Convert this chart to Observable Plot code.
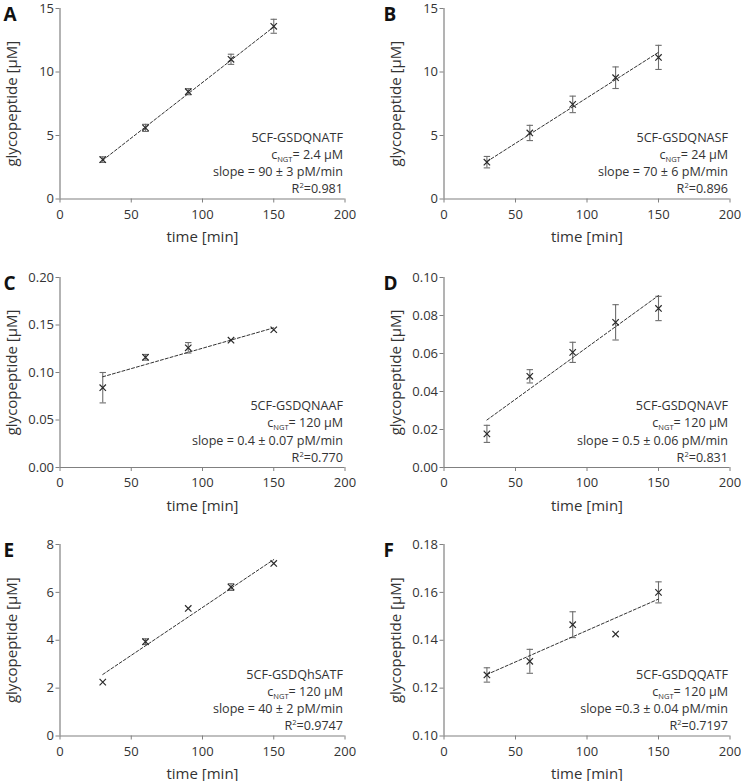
<!DOCTYPE html>
<html><head><meta charset="utf-8">
<script src="https://cdn.jsdelivr.net/npm/d3@7"></script>
<script src="https://cdn.jsdelivr.net/npm/@observablehq/plot@0.6"></script>
<style>
body{margin:0;background:#fff;}
#wrap{position:relative;width:741px;height:781px;overflow:hidden;background:#fff;}
#wrap svg{position:absolute;overflow:visible;}
</style></head><body><div id="wrap"></div>
<script>
// ---------- data ----------
const times = [30, 60, 90, 120, 150];
const xTicks = [0, 50, 100, 150, 200];
const panelLetters = ["A", "B", "C", "D", "E", "F"];
const peptides = ["5CF-GSDQNATF", "5CF-GSDQNASF", "5CF-GSDQNAAF", "5CF-GSDQNAVF", "5CF-GSDQhSATF", "5CF-GSDQQATF"];
const cNGT = ["= 2.4 µM", "= 24 µM", "= 120 µM", "= 120 µM", "= 120 µM", "= 120 µM"];
const slopes = ["slope = 90 ± 3 pM/min", "slope = 70 ± 6 pM/min", "slope = 0.4 ± 0.07 pM/min", "slope = 0.5 ± 0.06 pM/min", "slope = 40 ± 2 pM/min", "slope =0.3 ± 0.04 pM/min"];
const r2 = ["=0.981", "=0.896", "=0.770", "=0.831", "=0.9747", "=0.7197"];

const valuesA = [3.1, 5.6, 8.45, 11.0, 13.6];
const errorsA = [0.22, 0.28, 0.24, 0.4, 0.55];
const fitA = [3.05, 13.55];
const valuesB = [2.9, 5.2, 7.45, 9.55, 11.15];
const errorsB = [0.45, 0.6, 0.65, 0.85, 0.95];
const fitB = [2.95, 11.55];
const valuesC = [0.084, 0.116, 0.126, 0.134, 0.145];
const errorsC = [0.016, 0.003, 0.0055, 0, 0];
const fitC = [0.0955, 0.147];
const valuesD = [0.0177, 0.048, 0.0606, 0.0764, 0.0837];
const errorsD = [0.0045, 0.0035, 0.0053, 0.0093, 0.0064];
const fitD = [0.025, 0.0905];
const valuesE = [2.25, 3.94, 5.33, 6.22, 7.21];
const errorsE = [0, 0.12, 0, 0.14, 0];
const fitE = [2.57, 7.37];
const valuesF = [0.1255, 0.1312, 0.1465, 0.1426, 0.160];
const errorsF = [0.003, 0.005, 0.0054, 0, 0.0044];
const fitF = [0.1257, 0.1572];

const yTicksA = [0, 5, 10, 15];
const yTicksB = [0, 5, 10, 15];
const yTicksC = [0, 0.05, 0.10, 0.15, 0.20];
const yTicksD = [0, 0.02, 0.04, 0.06, 0.08, 0.10];
const yTicksE = [0, 2, 4, 6, 8];
const yTicksF = [0.10, 0.12, 0.14, 0.16, 0.18];
const yFormats = ["d", "d", ".2f", ".2f", "d", ".2f"];

const allValues = [valuesA, valuesB, valuesC, valuesD, valuesE, valuesF];
const allErrors = [errorsA, errorsB, errorsC, errorsD, errorsE, errorsF];
const allFits = [fitA, fitB, fitC, fitD, fitE, fitF];
const allYTicks = [yTicksA, yTicksB, yTicksC, yTicksD, yTicksE, yTicksF];

// ---------- layout ----------
const rowTop = [7.5, 276.5, 543.5];
const rowBottom = [198, 466.5, 735];
const cols = [
  {left: 0, width: 370, ml: 59.5, mr: 25.5, letterX: 3},
  {left: 370, width: 371, ml: 73.5, mr: 11.5, letterX: 13}
];
const MB = 48;
const axisGray = "#808080";
const textCol = "#333";
const FONT = "'Open Sans', sans-serif";

const capSymbol = {
  draw(ctx, size) {
    const w = Math.sqrt(size / Math.PI);
    ctx.moveTo(-w, 0); ctx.lineTo(w, 0);
  }
};

const wrap = document.getElementById("wrap");
const NS = "http://www.w3.org/2000/svg";

function scriptify(t, base, small, shift) {
  const rest = t.textContent.slice(base.length + small.length);
  while (t.firstChild) t.removeChild(t.firstChild);
  t.appendChild(document.createTextNode(base));
  const s = document.createElementNS(NS, "tspan");
  s.setAttribute("dy", String(shift)); s.setAttribute("font-size", "7.5"); s.textContent = small;
  const r = document.createElementNS(NS, "tspan");
  r.setAttribute("dy", String(-shift)); r.textContent = rest;
  t.appendChild(s); t.appendChild(r);
}

for (let p = 0; p < 6; p++) {
  const row = Math.floor(p / 2), col = cols[p % 2];
  const top = rowTop[row] - 7;
  const height = 7 + (rowBottom[row] - rowTop[row]) + MB;
  const yt = allYTicks[p];
  const domain = [yt[0], yt[yt.length - 1]];
  const pts = times.map((t, i) => ({t, v: allValues[p][i], e: allErrors[p][i]}));
  const errs = pts.filter(d => d.e > 0);
  const caps = errs.flatMap(d => [{t: d.t, v: d.v - d.e}, {t: d.t, v: d.v + d.e}]);
  const fit = [{t: times[0], v: allFits[p][0]}, {t: times[times.length - 1], v: allFits[p][1]}];
  const lineDy = [-61.5, -44.2, -26.9, -9.6];
  const cLine = "cNGT" + cNGT[p];
  const rLine = "R2" + r2[p];
  const annot = (txt, dy) => Plot.text([txt], {text: d => d, frameAnchor: "bottom-right", dx: -2, dy, textAnchor: "end", lineAnchor: "middle", fontSize: 12.6, fill: textCol});

  const svg = Plot.plot({
    width: col.width, height,
    marginTop: 7, marginBottom: MB, marginLeft: col.ml, marginRight: col.mr,
    style: {fontFamily: FONT, fontSize: "13px", color: textCol, background: "transparent", overflow: "visible"},
    x: {domain: [0, 200]},
    y: {domain},
    marks: [
      Plot.axisX({ticks: xTicks, tickSize: 4, tickPadding: 6.5, stroke: axisGray, fill: textCol, label: null}),
      Plot.axisY({ticks: yt, tickSize: 4, tickPadding: 2, tickFormat: d3.format(yFormats[p]), stroke: axisGray, fill: textCol, label: null}),
      Plot.ruleY([domain[0]], {stroke: axisGray, strokeWidth: 1.2}),
      Plot.ruleX([0], {stroke: axisGray, strokeWidth: 1.2}),
      Plot.ruleX(errs, {x: "t", y1: d => d.v - d.e, y2: d => d.v + d.e, stroke: "#6e6e6e", strokeWidth: 1.1}),
      Plot.dot(caps, {x: "t", y: "v", symbol: capSymbol, r: 3.2, stroke: "#6e6e6e", strokeWidth: 1.1}),
      Plot.line(fit, {x: "t", y: "v", stroke: "#333", strokeWidth: 1, strokeDasharray: "3,2"}),
      Plot.dot(pts, {x: "t", y: "v", symbol: "times", r: 3, stroke: "#2a2a2a", strokeWidth: 1.2}),
      Plot.text(["time [min]"], {text: d => d, frameAnchor: "bottom", dy: 38.5, textAnchor: "middle", lineAnchor: "middle", fontSize: 15, fill: textCol}),
      Plot.text(["glycopeptide [µM]"], {text: d => d, frameAnchor: "left", dx: -48, rotate: -90, textAnchor: "middle", lineAnchor: "middle", fontSize: 15, fill: textCol}),
      Plot.text([panelLetters[p]], {text: d => d, frameAnchor: "top-left", dx: col.letterX - col.ml, dy: 6, textAnchor: "start", lineAnchor: "middle", fontSize: 19, fontWeight: "bold", fill: "#111"}),
      annot(peptides[p], lineDy[0]),
      annot(cLine, lineDy[1]),
      annot(slopes[p], lineDy[2]),
      annot(rLine, lineDy[3])
    ]
  });
  svg.style.left = col.left + "px";
  svg.style.top = top + "px";

  svg.querySelectorAll("text").forEach(t => {
    if (t.textContent === cLine) scriptify(t, "c", "NGT", 3);
    else if (t.textContent === rLine) scriptify(t, "R", "2", -5);
  });
  wrap.appendChild(svg);
}
</script></body></html>
